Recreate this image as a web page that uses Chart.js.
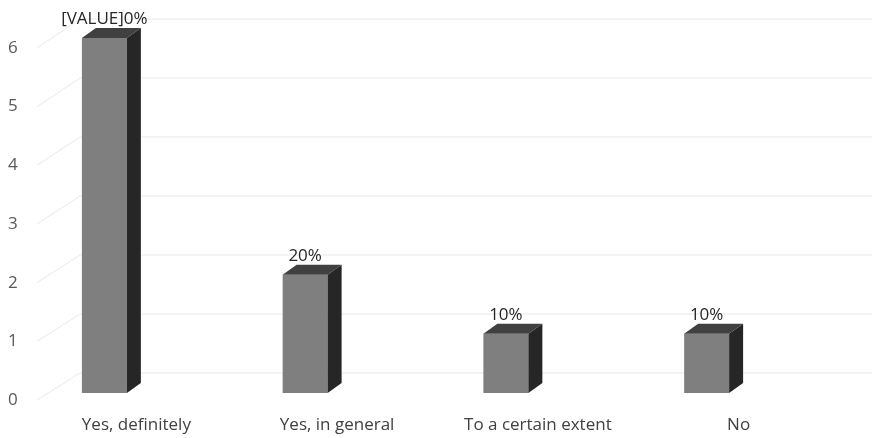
<!DOCTYPE html>
<html>
<head>
<meta charset="utf-8">
<script src="https://cdn.jsdelivr.net/npm/chart.js@4.4.0/dist/chart.umd.min.js"></script>
<style>
    html, body { margin: 0; padding: 0; background: #fff; }
    #wrap { width: 872px; height: 438px; }
</style>
</head>
<body>
<div id="wrap"><canvas id="answerChart"></canvas></div>
<script>
// Chart data
const categories = ['Yes, definitely', 'Yes, in general', 'To a certain extent', 'No'];
const counts = [6, 2, 1, 1];
const valueLabels = ['[VALUE]0%', '20%', '10%', '10%'];
const yTicks = [0, 1, 2, 3, 4, 5, 6];

const FONT = '"Open Sans", sans-serif';
const FONT_SIZE = 17;
const DEPTH_X = 14;
const DEPTH_Y = -10;

// Draws the back wall gridlines and the short floor lines going to the labels
const wallPlugin = {
    id: 'wall',
    beforeDatasetsDraw(chart) {
        const ctx = chart.ctx;
        const labelAxis = chart.scales.y;
        const backAxis = chart.scales.yWall;
        const left = chart.chartArea.left;
        ctx.save();
        ctx.strokeStyle = '#e8e8e8';
        ctx.lineWidth = 1;
        yTicks.forEach(v => {
            const y0 = labelAxis.getPixelForValue(v);
            const y1 = backAxis.getPixelForValue(v);
            ctx.beginPath();
            ctx.moveTo(left + 33, y0);
            ctx.lineTo(left + 76, y1);
            ctx.lineTo(chart.width, y1);
            ctx.stroke();
        });
        ctx.restore();
    }
};

// Adds side + top faces to each bar and writes the value labels
const boxPlugin = {
    id: 'box',
    afterDatasetsDraw(chart) {
        const ctx = chart.ctx;
        const meta = chart.getDatasetMeta(0);
        ctx.save();
        meta.data.forEach((bar, i) => {
            const half = bar.width / 2;
            const xl = bar.x - half;
            const xr = bar.x + half;
            const top = bar.y;
            const base = bar.base;

            // side face
            ctx.fillStyle = '#262626';
            ctx.beginPath();
            ctx.moveTo(xr, top);
            ctx.lineTo(xr + DEPTH_X, top + DEPTH_Y);
            ctx.lineTo(xr + DEPTH_X, base + DEPTH_Y);
            ctx.lineTo(xr, base);
            ctx.closePath();
            ctx.fill();

            // top face
            ctx.fillStyle = '#404040';
            ctx.beginPath();
            ctx.moveTo(xl, top);
            ctx.lineTo(xl + DEPTH_X, top + DEPTH_Y);
            ctx.lineTo(xr + DEPTH_X, top + DEPTH_Y);
            ctx.lineTo(xr, top);
            ctx.closePath();
            ctx.fill();

            // value label
            ctx.fillStyle = '#262626';
            ctx.font = FONT_SIZE + 'px ' + FONT;
            ctx.textAlign = 'center';
            ctx.textBaseline = 'bottom';
            ctx.fillText(valueLabels[i], bar.x, top + DEPTH_Y);
        });
        ctx.restore();
    }
};

const ctx = document.getElementById('answerChart').getContext('2d');
new Chart(ctx, {
    type: 'bar',
    data: {
        labels: categories,
        datasets: [{
            data: counts,
            yAxisID: 'yBar',
            backgroundColor: '#7f7f7f',
            borderWidth: 0,
            categoryPercentage: 1,
            barPercentage: 0.224
        }]
    },
    options: {
        responsive: true,
        maintainAspectRatio: false,
        animation: false,
        layout: {
            padding: { left: 4, right: 65, top: 19, bottom: 0 }
        },
        plugins: {
            legend: { display: false },
            tooltip: { enabled: false }
        },
        scales: {
            x: {
                grid: { display: false, drawTicks: false },
                border: { display: false },
                afterFit(scale) { scale.height = 38; },
                ticks: {
                    padding: 15,
                    labelOffset: 32,
                    color: '#404040',
                    font: { family: FONT, size: FONT_SIZE }
                }
            },
            // label plane (front-left)
            y: {
                min: 0,
                max: 6.494,
                grid: { display: false, drawTicks: false },
                border: { display: false },
                afterFit(scale) { scale.width = 0; },
                ticks: {
                    mirror: true,
                    padding: 4,
                    stepSize: 1,
                    includeBounds: false,
                    color: '#595959',
                    font: { family: FONT, size: FONT_SIZE }
                }
            },
            // plane of the bar fronts
            yBar: {
                display: false,
                min: -0.118,
                max: 6.321
            },
            // back wall
            yWall: {
                display: false,
                min: -0.458,
                max: 6
            }
        }
    },
    plugins: [wallPlugin, boxPlugin]
});
</script>
</body>
</html>
